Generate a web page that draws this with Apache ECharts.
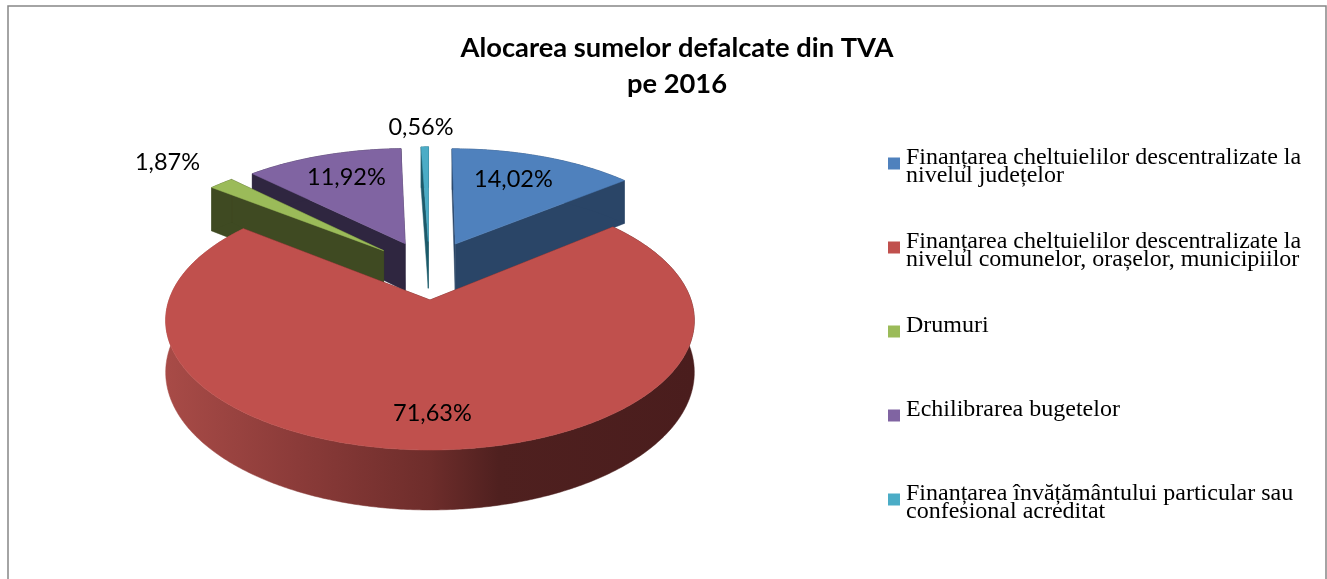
<!DOCTYPE html>
<html>
<head>
<meta charset="utf-8">
<title>Alocarea sumelor defalcate din TVA</title>
<style>
  html, body { margin: 0; padding: 0; background: #fff; }
  #chart { width: 1327px; height: 579px; }
</style>
<script src="https://cdn.jsdelivr.net/npm/echarts@6/dist/echarts.min.js"></script>
</head>
<body>
<div id="chart"></div>
<script>
// date
const categories = [
  'Finanțarea cheltuielilor descentralizate la nivelul județelor',
  'Finanțarea cheltuielilor descentralizate la nivelul comunelor, orașelor, municipiilor',
  'Drumuri',
  'Echilibrarea bugetelor',
  'Finanțarea învățământului particular sau confesional acreditat'
];
const legendLines = [
  ['Finanțarea cheltuielilor descentralizate la', 'nivelul județelor'],
  ['Finanțarea cheltuielilor descentralizate la', 'nivelul comunelor, orașelor, municipiilor'],
  ['Drumuri', ' '],
  ['Echilibrarea bugetelor', ' '],
  ['Finanțarea învățământului particular sau', 'confesional acreditat']
];
const shares = [14.02, 71.63, 1.87, 11.92, 0.56];
const shareLabels = ['14,02%', '71,63%', '1,87%', '11,92%', '0,56%'];

// culori: fata de sus si peretele lateral
const topColors = ['#4f81bd', '#c0504d', '#9bbb59', '#8064a2', '#4bacc6'];
const wallColors = ['#2a4567', '#4e1f1e', '#3f4a22', '#2f2640', '#1d5a6a'];

// pozitia etichetelor fata de varful feliei
const labelRadius = [0.708, 0.784, 1.36, 0.717, 1.245];
const labelTurn = [-2.6, 0, -0.6, 0.85, -0.7];

// proiectia "3D" a discului
const apexX = 430, apexY = 300;  // varful feliei rosii pe ecran
const radiusX = 261, depthY = 126.3, wallH = 50.5, persp = 0.158;
const explode = 0.25;

const total = shares.reduce((a, b) => a + b, 0);
const startAngles = [];
shares.reduce((acc, v, i) => {
  startAngles[i] = acc / total * Math.PI * 2;
  return acc + v;
}, 0);
const sweep = i => shares[i] / total * Math.PI * 2;
const midAngle = i => startAngles[i] + sweep(i) / 2;

// centrul feliei rosii e originea proiectiei
const originU = explode * Math.sin(midAngle(1));
const originV = -explode * Math.cos(midAngle(1));

function project(u, v, h) {
  const du = u - originU, dv = v - originV;
  const s = 1 / (1 - persp * dv);
  return [apexX + radiusX * du * s, apexY + (depthY * dv + h) * s];
}

function sliceApex(i) {
  const m = midAngle(i);
  return [explode * Math.sin(m), -explode * Math.cos(m)];
}

function arcPoints(i, h) {
  const a = sliceApex(i);
  const steps = Math.max(4, Math.ceil(sweep(i) / 0.01));
  const pts = [];
  for (let k = 0; k <= steps; k++) {
    const t = startAngles[i] + sweep(i) * k / steps;
    pts.push(project(a[0] + Math.sin(t), a[1] - Math.cos(t), h));
  }
  return pts;
}

const redWall = {
  type: 'linear', x: 0, y: 0, x2: 1, y2: 0,
  colorStops: [
    { offset: 0, color: '#a84b47' },
    { offset: 0.25, color: '#8b3b39' },
    { offset: 0.5, color: '#6e2d2b' },
    { offset: 0.63, color: '#4f201f' },
    { offset: 1, color: '#4a1d1d' }
  ]
};

function polygon(points, fill) {
  return {
    type: 'polygon',
    shape: { points: points },
    style: { fill: fill, stroke: fill, lineWidth: 0.5 },
    silent: true
  };
}

function renderSlice(i) {
  const a = sliceApex(i);
  const topArc = arcPoints(i, 0);
  const lowArc = arcPoints(i, wallH);
  const apexTop = project(a[0], a[1], 0);
  const apexLow = project(a[0], a[1], wallH);
  const last = topArc.length - 1;
  const wall = wallColors[i];
  const side = i === 1 ? redWall : wall;

  const turn = midAngle(i) + labelTurn[i] * Math.PI / 180;
  const labelAt = project(
    a[0] + labelRadius[i] * Math.sin(turn),
    a[1] - labelRadius[i] * Math.cos(turn),
    0
  );

  return {
    type: 'group',
    children: [
      polygon([apexTop, topArc[0], lowArc[0], apexLow], wall),
      polygon([apexTop, topArc[last], lowArc[last], apexLow], wall),
      polygon(topArc.concat(lowArc.slice().reverse()), side),
      polygon([apexTop].concat(topArc), topColors[i]),
      {
        type: 'text',
        silent: true,
        style: {
          text: shareLabels[i],
          x: labelAt[0],
          y: labelAt[1],
          align: 'center',
          verticalAlign: 'middle',
          fill: '#000',
          font: '23.5px Lato, sans-serif'
        }
      }
    ]
  };
}

const chart = echarts.init(document.getElementById('chart'), null, { renderer: 'canvas' });

chart.setOption({
  animation: false,
  backgroundColor: '#fff',
  title: {
    text: 'Alocarea sumelor defalcate din TVA\npe 2016',
    left: 672,
    top: 25,
    textAlign: 'center',
    textStyle: {
      fontFamily: 'Lato, sans-serif',
      fontWeight: 'bold',
      fontSize: 27.3,
      lineHeight: 36,
      color: '#000'
    }
  },
  legend: {
    orient: 'vertical',
    left: 888,
    top: 145,
    padding: 0,
    itemWidth: 12,
    itemHeight: 12,
    itemGap: 41.5,
    icon: 'rect',
    selectedMode: false,
    data: categories,
    formatter: name => {
      const lines = legendLines[categories.indexOf(name)];
      // randul gol de sus coboara textul fata de marcaj, ca in original
      return '{gap| }\n{line|' + lines[0] + '}\n{line|' + lines[1] + '}';
    },
    textStyle: {
      rich: {
        gap: { fontSize: 1, lineHeight: 6 },
        line: {
          fontFamily: '"Liberation Serif", serif',
          fontSize: 24,
          lineHeight: 18,
          color: '#000',
          padding: [0, 0, 0, 1]
        }
      }
    }
  },
  graphic: [
    {
      type: 'rect',
      silent: true,
      shape: { x: 8, y: 6, width: 1318, height: 620 },
      style: { fill: 'none', stroke: '#868686', lineWidth: 1.5 }
    }
  ],
  series: categories.map((name, i) => ({
    name: name,
    type: 'custom',
    coordinateSystem: 'none',
    z: 2 + (-Math.cos(midAngle(i)) + 1),
    itemStyle: { color: topColors[i] },
    data: [shares[i]],
    renderItem: () => renderSlice(i)
  }))
});
</script>
</body>
</html>
